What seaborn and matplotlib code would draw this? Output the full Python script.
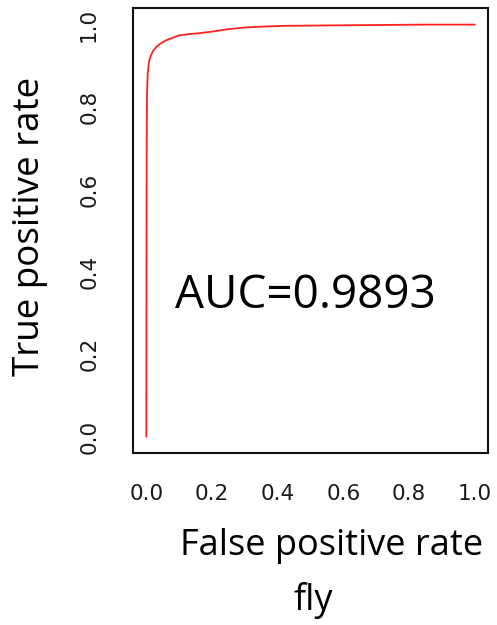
import pandas as pd
import matplotlib
matplotlib.use("Agg")
import matplotlib.pyplot as plt
import seaborn as sns

# ROC curve
fpr = [0.0, 0.0005, 0.001, 0.002, 0.004, 0.008, 0.014, 0.022, 0.032, 0.045, 0.06, 0.08, 0.10,
       0.13, 0.16, 0.20, 0.25, 0.30, 0.35, 0.42, 0.55, 0.70, 0.85, 1.0]
tpr = [0.0, 0.5, 0.72, 0.83, 0.88, 0.91, 0.926, 0.938, 0.947, 0.955, 0.962, 0.968, 0.974,
       0.977, 0.979, 0.983, 0.989, 0.993, 0.995, 0.997, 0.998, 0.999, 1.0, 1.0]
tick_vals = [0.0, 0.2, 0.4, 0.6, 0.8, 1.0]
auc_text = "AUC=0.9893"
species = "fly"

df = pd.DataFrame({"fpr": fpr, "tpr": tpr})

sns.set_style("white")
plt.rcParams["font.family"] = ["DejaVu Sans"]

fig = plt.figure(figsize=(4.97, 6.25), dpi=100)
ax = fig.add_axes([0.268, 0.275, 0.714, 0.712])

sns.lineplot(data=df, x="fpr", y="tpr", sort=False, estimator=None,
             color="#ff2020", linewidth=1.3, ax=ax)

ax.set_xlim(-0.04, 1.04)
ax.set_ylim(-0.04, 1.04)
ax.set_xticks(tick_vals)
ax.set_yticks(tick_vals)
ax.set_xticklabels([f"{v:.1f}" for v in tick_vals])
ax.set_yticklabels([f"{v:.1f}" for v in tick_vals])
ax.set_xlabel("")
ax.set_ylabel("")

for s in ax.spines.values():
    s.set_color("#111111")
    s.set_linewidth(1.5)

ax.tick_params(axis="both", direction="out", length=10.5, width=1.4,
               color="#111111", labelsize=15.5, labelcolor="#1a1a1a")
ax.tick_params(axis="x", pad=12)
ax.tick_params(axis="y", pad=14)
for lab in ax.get_yticklabels():
    lab.set_rotation(90)
    lab.set_va("center")
    lab.set_ha("right")

big = ["Open Sans", "DejaVu Sans"]
ax.text(0.485, 0.312, auc_text, ha="center", va="baseline",
        fontsize=33, family=big, color="black")
fig.text(0.667, 0.112, "False positive rate", ha="center", va="baseline",
         fontsize=26, family=big, color="black")
fig.text(0.630, 0.024, species, ha="center", va="baseline",
         fontsize=26, family=big, color="black")
fig.text(0.060, 0.637, "True positive rate", ha="center", va="center",
         rotation=90, fontsize=26.5, family=big, color="black")

fig.savefig("out.png", dpi=100)
